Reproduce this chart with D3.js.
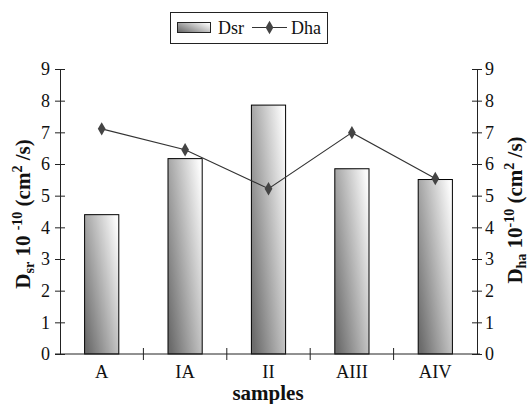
<!DOCTYPE html>
<html><head><meta charset="utf-8">
<script src="https://cdn.jsdelivr.net/npm/d3@7"></script>
<style>body{margin:0;background:#fff}svg{display:block}text{font-family:"Liberation Serif","Times New Roman",Times,serif}</style>
</head><body>
<script>
const categories = ["A","IA","II","AIII","AIV"];
const dsrValues = [4.40, 6.17, 7.86, 5.85, 5.51];
const dhaValues = [7.11, 6.45, 5.22, 6.99, 5.54];
const yTicks = [0,1,2,3,4,5,6,7,8,9];

const W = 528, H = 404;
const svg = d3.select("body").append("svg").attr("width", W).attr("height", H);
const defs = svg.append("defs");
const grad = defs.append("linearGradient").attr("id","barGrad")
  .attr("x1",0).attr("y1",0.85).attr("x2",1).attr("y2",0.15);
grad.append("stop").attr("offset","0%").attr("stop-color","#6c6c6c");
grad.append("stop").attr("offset","100%").attr("stop-color","#fbfbfb");

const mLeft = 60, mRight = 477, mTop = 69, mBottom = 354;
const x = d3.scaleBand().domain(categories).range([mLeft, mRight]).padding(0);
const y = d3.scaleLinear().domain([0, 9]).range([mBottom, mTop]);

// bars
const bw = x.bandwidth() * 0.41;
svg.append("g").selectAll("rect").data(categories).join("rect")
  .attr("x", (d) => x(d) + x.bandwidth()/2 - bw/2)
  .attr("y", (d,i) => y(dsrValues[i]))
  .attr("width", bw)
  .attr("height", (d,i) => y(0) - y(dsrValues[i]))
  .attr("fill", "url(#barGrad)")
  .attr("stroke", "#000").attr("stroke-width", 1);

// axes
const axisColor = "#222";
const leftAxis = d3.axisLeft(y).tickValues(yTicks).tickSizeInner(5).tickSizeOuter(0).tickPadding(6);
const gL = svg.append("g").attr("transform", `translate(${mLeft},0)`).call(leftAxis);
const rightAxis = d3.axisRight(y).tickValues(yTicks).tickSizeInner(5).tickSizeOuter(0).tickPadding(6);
const gR = svg.append("g").attr("transform", `translate(${mRight},0)`).call(rightAxis);
[gL, gR].forEach(g => {
  g.select(".domain").attr("stroke", axisColor);
  g.selectAll(".tick line").attr("stroke", axisColor).attr("x1", -5).attr("x2", 5);
  g.selectAll(".tick text").attr("font-size", 18).attr("fill", "#111");
});
gL.selectAll(".tick text").attr("x", -10);
gR.selectAll(".tick text").attr("x", 8);

// bottom axis
svg.append("line").attr("x1", mLeft - 5).attr("x2", mRight + 3).attr("y1", mBottom).attr("y2", mBottom).attr("stroke", axisColor);
const sepTicks = categories.slice(1).map(c => x(c));
svg.append("g").selectAll("line").data(sepTicks).join("line")
  .attr("x1", d => d).attr("x2", d => d).attr("y1", mBottom - 6).attr("y2", mBottom + 6).attr("stroke", axisColor);
svg.append("g").selectAll("text").data(categories).join("text")
  .attr("x", d => x(d) + x.bandwidth()/2).attr("y", mBottom + 24)
  .attr("text-anchor", "middle").attr("font-size", 18.5).attr("fill", "#111").text(d => d);

// line series
const line = d3.line().x((d,i) => x(categories[i]) + x.bandwidth()/2).y(d => y(d));
svg.append("path").datum(dhaValues).attr("d", line).attr("fill", "none").attr("stroke", "#333").attr("stroke-width", 1.1);
const diamond = d3.symbol().type(d3.symbolDiamond).size(52);
svg.append("g").selectAll("path").data(dhaValues).join("path")
  .attr("d", diamond)
  .attr("transform", (d,i) => `translate(${x(categories[i]) + x.bandwidth()/2},${y(d)})`)
  .attr("fill", "#444");

// axis titles
svg.append("text").attr("x", 268).attr("y", 400).attr("text-anchor", "middle")
  .attr("font-size", 21).attr("font-weight", "bold").attr("fill", "#111").text("samples");

function title(xc, yc, sub, gap) {
  const t = svg.append("text").attr("transform", `translate(${xc},${yc}) rotate(-90)`)
    .attr("text-anchor", "middle").attr("font-size", 21).attr("font-weight", "bold").attr("fill", "#111");
  t.append("tspan").text("D");
  t.append("tspan").attr("font-size", 14).attr("dy", 4).text(sub);
  t.append("tspan").attr("dy", -4).text(gap ? " 10 " : " 10");
  t.append("tspan").attr("font-size", 14).attr("dy", -8).text("-10");
  t.append("tspan").attr("dy", 8).text(" (cm");
  t.append("tspan").attr("font-size", 14).attr("dy", -8).text("2");
  t.append("tspan").attr("dy", 8).text(" /s)");
}
title(30, 214, "sr", true);
title(522, 210, "ha", false);

// legend
const lg = svg.append("g");
lg.append("rect").attr("x", 170.5).attr("y", 12.5).attr("width", 157).attr("height", 31)
  .attr("fill", "#fff").attr("stroke", "#222");
lg.append("rect").attr("x", 177.5).attr("y", 22.5).attr("width", 33).attr("height", 10)
  .attr("fill", "url(#barGrad)").attr("stroke", "#222");
lg.append("text").attr("x", 218).attr("y", 34).attr("font-size", 18).attr("fill", "#111").text("Dsr");
lg.append("line").attr("x1", 252).attr("x2", 287).attr("y1", 27.5).attr("y2", 27.5).attr("stroke", "#333");
lg.append("path").attr("d", diamond).attr("transform", "translate(269.5,27.5)").attr("fill", "#444");
lg.append("text").attr("x", 291).attr("y", 34).attr("font-size", 18).attr("fill", "#111").text("Dha");
</script>
</body></html>
